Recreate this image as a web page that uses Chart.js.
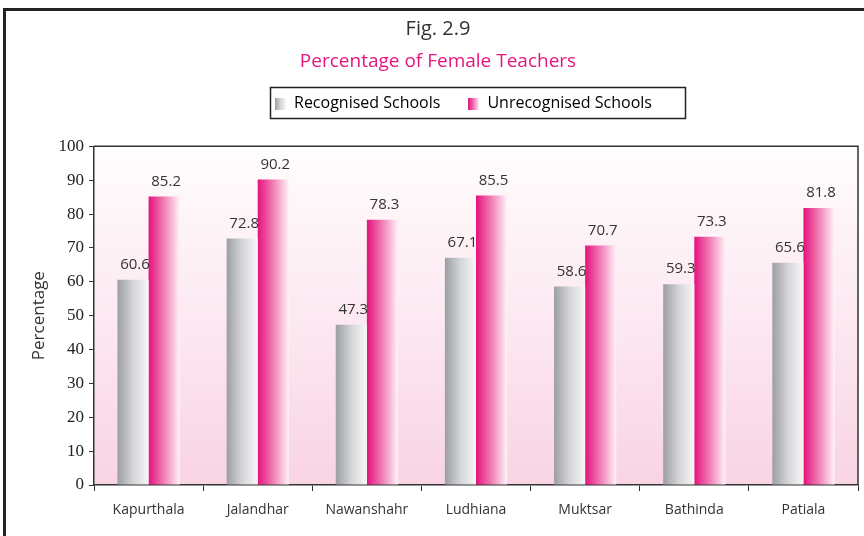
<!DOCTYPE html>
<html>
<head>
    <title>Percentage of Female Teachers</title>
    <script src="https://cdn.jsdelivr.net/npm/chart.js@4.4.0/dist/chart.umd.min.js"></script>
    <style>
        html, body { margin: 0; padding: 0; background: #fff; }
        #wrap { width: 864px; height: 536px; position: relative; }
    </style>
</head>
<body>
    <div id="wrap"><canvas id="chart" width="864" height="536"></canvas></div>
    <script>
        const districts = ['Kapurthala', 'Jalandhar', 'Nawanshahr', 'Ludhiana', 'Muktsar', 'Bathinda', 'Patiala'];
        const recognised = [60.6, 72.8, 47.3, 67.1, 58.6, 59.3, 65.6];
        const unrecognised = [85.2, 90.2, 78.3, 85.5, 70.7, 73.3, 81.8];
        const yTicks = [0, 10, 20, 30, 40, 50, 60, 70, 80, 90, 100];

        const FONT = '"Open Sans", sans-serif';
        const CAT_PCT = 0.57;
        const LEGEND_PAD = 28;
        const TITLE_SHIFT = 9;   // headings sit a bit right of the page centre
        const grayStops = ['#9d9ea3', '#d4d5d8', '#f7f7f7'];
        const pinkStops = ['#e6117e', '#f07fb5', '#fff3f8'];

        function barGradient(c, stops) {
            const chart = c.chart;
            const x = chart.scales.x;
            if (!x || !chart.chartArea || c.dataIndex === undefined) return stops[0];
            const group = x.width / districts.length * CAT_PCT;
            const center = x.getPixelForValue(c.dataIndex);
            const left = center - group / 2 + c.datasetIndex * group / 2;
            const g = chart.ctx.createLinearGradient(left, 0, left + group / 2, 0);
            stops.forEach((s, i) => g.addColorStop(i / (stops.length - 1), s));
            return g;
        }

        // little gradient swatch for the legend
        function swatch(stops) {
            const cv = document.createElement('canvas');
            cv.width = 11; cv.height = 12;
            const cx = cv.getContext('2d');
            const g = cx.createLinearGradient(0, 0, 11, 0);
            stops.forEach((s, i) => g.addColorStop(i / (stops.length - 1), s));
            cx.fillStyle = g;
            cx.fillRect(0, 0, 11, 12);
            return cv;
        }
        const swatches = [swatch(grayStops), swatch(pinkStops)];

        const decorPlugin = {
            id: 'decor',
            beforeLayout(chart) {
                const lg = chart.legend;
                if (lg && !lg._fixedFit) {
                    const fit = lg.fit.bind(lg);
                    lg.fit = function () { fit(); this.height = 78.5; };
                    lg._fixedFit = true;
                }
            },
            afterLayout(chart) {
                const lg = chart.legend;
                const shift = 275 - (lg.left + LEGEND_PAD);
                lg.left += shift;
                lg.right += shift;
                if (lg.adjustHitBoxes) lg.adjustHitBoxes();
                chart.boxes.forEach(b => {
                    if (b !== lg && b.options && typeof b.options.text === 'string') {
                        b.left += TITLE_SHIFT;
                        b.right += TITLE_SHIFT;
                    }
                });
            },
            beforeDraw(chart) {
                const { ctx, chartArea: a } = chart;
                ctx.save();
                const g = ctx.createLinearGradient(0, a.top, 0, a.bottom);
                g.addColorStop(0, '#fffdfe');
                g.addColorStop(0.5, '#fce9f1');
                g.addColorStop(1, '#f9d4e4');
                ctx.fillStyle = g;
                ctx.fillRect(a.left, a.top, a.right - a.left, a.bottom - a.top);
                // outer frame
                ctx.fillStyle = '#222';
                ctx.fillRect(3, 8, 870, 3);
                ctx.fillRect(3, 8, 3, 540);
                ctx.restore();
            },
            afterDraw(chart) {
                const { ctx, chartArea: a } = chart;
                ctx.save();
                ctx.strokeStyle = '#333';
                ctx.lineWidth = 1.5;
                ctx.beginPath();
                ctx.moveTo(a.left, a.top);
                ctx.lineTo(a.right, a.top);
                ctx.lineTo(a.right, a.bottom);
                ctx.stroke();
                // legend box
                ctx.strokeStyle = '#222';
                ctx.strokeRect(270.5, 87.5, 415, 31);
                ctx.restore();
            },
            afterDatasetsDraw(chart) {
                const ctx = chart.ctx;
                ctx.save();
                ctx.font = '15px ' + FONT;
                ctx.fillStyle = '#333';
                ctx.textAlign = 'center';
                ctx.textBaseline = 'middle';
                chart.data.datasets.forEach((ds, di) => {
                    chart.getDatasetMeta(di).data.forEach((bar, i) => {
                        ctx.fillText(ds.data[i].toFixed(1), bar.x + 2, bar.y - 15);
                    });
                });
                ctx.restore();
            }
        };

        new Chart(document.getElementById('chart'), {
            type: 'bar',
            data: {
                labels: districts,
                datasets: [{
                    label: 'Recognised Schools',
                    data: recognised,
                    backgroundColor: c => barGradient(c, grayStops),
                    categoryPercentage: CAT_PCT,
                    barPercentage: 1
                }, {
                    label: 'Unrecognised Schools',
                    data: unrecognised,
                    backgroundColor: c => barGradient(c, pinkStops),
                    categoryPercentage: CAT_PCT,
                    barPercentage: 1
                }]
            },
            options: {
                responsive: false,
                animation: false,
                devicePixelRatio: 1,
                layout: { padding: { left: 0, right: 6, top: 0, bottom: 0 } },
                plugins: {
                    tooltip: { enabled: false },
                    title: {
                        display: true,
                        text: 'Fig. 2.9',
                        color: '#333',
                        font: { family: FONT, size: 20, weight: 'normal' },
                        padding: { top: 17, bottom: 0 }
                    },
                    subtitle: {
                        display: true,
                        text: 'Percentage of Female Teachers',
                        color: '#e5157f',
                        font: { family: FONT, size: 19, weight: 'normal' },
                        padding: { top: 9, bottom: -5 }
                    },
                    legend: {
                        display: true,
                        align: 'start',
                        labels: {
                            color: '#333',
                            font: { family: FONT, size: 16 },
                            usePointStyle: true,
                            pointStyleWidth: 11,
                            padding: LEGEND_PAD,
                            generateLabels: chart => chart.data.datasets.map((ds, i) => ({
                                text: ds.label,
                                pointStyle: swatches[i],
                                datasetIndex: i,
                                hidden: false,
                                lineWidth: 0
                            }))
                        }
                    }
                },
                scales: {
                    x: {
                        afterFit: s => { s.height = 51; },
                        grid: { display: true, drawOnChartArea: false, drawTicks: true, tickLength: 6, color: '#333', offset: true },
                        border: { display: true, color: '#333', width: 1.5 },
                        ticks: { color: '#333', font: { family: FONT, size: 14 }, padding: 11, maxRotation: 0 }
                    },
                    y: {
                        min: 0,
                        max: 100,
                        afterFit: s => { s.width = 94; },
                        afterBuildTicks: s => { s.ticks = yTicks.map(v => ({ value: v })); },
                        grid: { display: true, drawOnChartArea: false, drawTicks: true, tickLength: 5, color: '#333' },
                        border: { display: true, color: '#333', width: 1.5 },
                        ticks: { color: '#222', font: { family: '"Liberation Serif", serif', size: 17 }, padding: 5 },
                        title: {
                            display: true,
                            text: 'Percentage',
                            color: '#333',
                            font: { family: FONT, size: 17 },
                            padding: { top: 29, bottom: 0 }
                        }
                    }
                }
            },
            plugins: [decorPlugin]
        });
    </script>
</body>
</html>
